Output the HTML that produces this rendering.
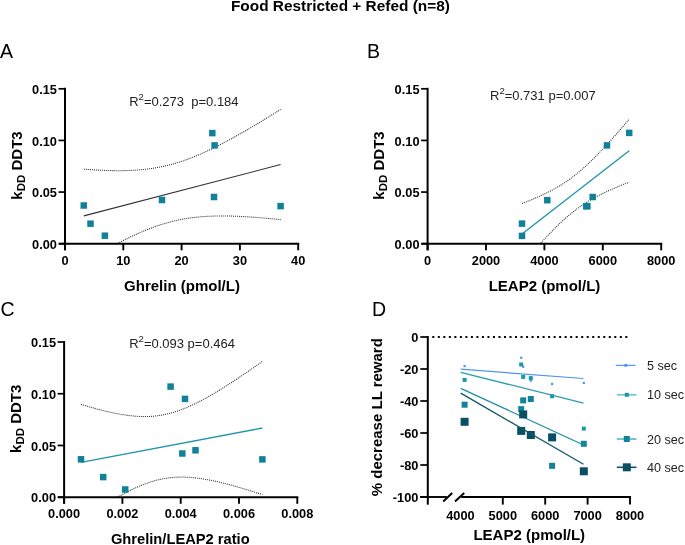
<!DOCTYPE html>
<html><head><meta charset="utf-8"><style>
html,body{margin:0;padding:0;background:#fff;overflow:hidden}
svg{display:block;font-family:"Liberation Sans", sans-serif;will-change:transform}
</style></head><body>
<svg width="685" height="545" viewBox="0 0 685 545">
<rect width="685" height="545" fill="#fff"/>
<defs>
<clipPath id="clip65243"><rect x="65" y="58.8" width="243.2" height="184.89999999999998"/></clipPath>
<clipPath id="clip427243"><rect x="427.6" y="58.8" width="243.60000000000002" height="184.89999999999998"/></clipPath>
<clipPath id="clip64497"><rect x="64.1" y="312" width="243.20000000000002" height="185.2"/></clipPath>
</defs>
<text x="340.40" y="11.00" font-size="15.4" font-weight="bold" text-anchor="middle" fill="#000" >Food Restricted + Refed (n=8)</text>
<text x="0.00" y="57.70" font-size="19.5" font-weight="normal" text-anchor="start" fill="#000" >A</text>
<text x="367.00" y="57.70" font-size="19.5" font-weight="normal" text-anchor="start" fill="#000" >B</text>
<text x="0.60" y="316.20" font-size="19.5" font-weight="normal" text-anchor="start" fill="#000" >C</text>
<text x="372.00" y="315.70" font-size="19.5" font-weight="normal" text-anchor="start" fill="#000" >D</text>
<g clip-path="url(#clip65243)">
<polyline points="83.80,169.17 85.45,169.29 87.11,169.41 88.76,169.53 90.42,169.64 92.07,169.75 93.72,169.85 95.38,169.95 97.03,170.04 98.68,170.13 100.34,170.21 101.99,170.28 103.65,170.35 105.30,170.41 106.95,170.47 108.61,170.52 110.26,170.56 111.91,170.60 113.57,170.63 115.22,170.65 116.88,170.66 118.53,170.67 120.18,170.66 121.84,170.65 123.49,170.63 125.14,170.59 126.80,170.55 128.45,170.50 130.11,170.44 131.76,170.36 133.41,170.28 135.07,170.18 136.72,170.07 138.37,169.95 140.03,169.81 141.68,169.67 143.34,169.51 144.99,169.33 146.64,169.14 148.30,168.94 149.95,168.72 151.61,168.49 153.26,168.24 154.91,167.97 156.57,167.69 158.22,167.39 159.87,167.08 161.53,166.75 163.18,166.40 164.84,166.04 166.49,165.65 168.14,165.25 169.80,164.84 171.45,164.40 173.10,163.95 174.76,163.48 176.41,163.00 178.07,162.49 179.72,161.97 181.37,161.43 183.03,160.88 184.68,160.31 186.33,159.72 187.99,159.12 189.64,158.50 191.30,157.87 192.95,157.22 194.60,156.56 196.26,155.88 197.91,155.18 199.56,154.48 201.22,153.76 202.87,153.03 204.53,152.28 206.18,151.52 207.83,150.75 209.49,149.97 211.14,149.18 212.79,148.38 214.45,147.56 216.10,146.74 217.76,145.91 219.41,145.06 221.06,144.21 222.72,143.35 224.37,142.48 226.03,141.60 227.68,140.72 229.33,139.82 230.99,138.92 232.64,138.01 234.29,137.10 235.95,136.18 237.60,135.25 239.26,134.32 240.91,133.38 242.56,132.43 244.22,131.48 245.87,130.52 247.52,129.56 249.18,128.60 250.83,127.63 252.49,126.65 254.14,125.67 255.79,124.69 257.45,123.70 259.10,122.71 260.75,121.71 262.41,120.71 264.06,119.71 265.72,118.70 267.37,117.69 269.02,116.68 270.68,115.66 272.33,114.64 273.98,113.62 275.64,112.60 277.29,111.57 278.95,110.54 280.60,109.51" fill="none" stroke="#2a2a2a" stroke-width="1.05" stroke-dasharray="1 1.04"/>
<polyline points="83.80,262.58 85.45,261.60 87.11,260.62 88.76,259.64 90.42,258.66 92.07,257.69 93.72,256.73 95.38,255.77 97.03,254.82 98.68,253.87 100.34,252.92 101.99,251.99 103.65,251.05 105.30,250.13 106.95,249.21 108.61,248.30 110.26,247.39 111.91,246.49 113.57,245.60 115.22,244.72 116.88,243.84 118.53,242.98 120.18,242.12 121.84,241.27 123.49,240.43 125.14,239.60 126.80,238.78 128.45,237.97 130.11,237.17 131.76,236.38 133.41,235.60 135.07,234.84 136.72,234.09 138.37,233.34 140.03,232.62 141.68,231.90 143.34,231.20 144.99,230.51 146.64,229.84 148.30,229.18 149.95,228.54 151.61,227.91 153.26,227.29 154.91,226.70 156.57,226.12 158.22,225.55 159.87,225.00 161.53,224.47 163.18,223.96 164.84,223.46 166.49,222.98 168.14,222.52 169.80,222.07 171.45,221.64 173.10,221.23 174.76,220.84 176.41,220.46 178.07,220.10 179.72,219.76 181.37,219.44 183.03,219.13 184.68,218.83 186.33,218.56 187.99,218.30 189.64,218.06 191.30,217.83 192.95,217.61 194.60,217.42 196.26,217.23 197.91,217.06 199.56,216.91 201.22,216.76 202.87,216.63 204.53,216.52 206.18,216.41 207.83,216.32 209.49,216.24 211.14,216.17 212.79,216.11 214.45,216.06 216.10,216.02 217.76,215.99 219.41,215.97 221.06,215.96 222.72,215.96 224.37,215.97 226.03,215.98 227.68,216.01 229.33,216.04 230.99,216.08 232.64,216.12 234.29,216.17 235.95,216.23 237.60,216.30 239.26,216.37 240.91,216.45 242.56,216.53 244.22,216.62 245.87,216.71 247.52,216.81 249.18,216.91 250.83,217.02 252.49,217.13 254.14,217.25 255.79,217.37 257.45,217.50 259.10,217.63 260.75,217.76 262.41,217.90 264.06,218.04 265.72,218.18 267.37,218.33 269.02,218.48 270.68,218.64 272.33,218.79 273.98,218.95 275.64,219.12 277.29,219.28 278.95,219.45 280.60,219.62" fill="none" stroke="#2a2a2a" stroke-width="1.05" stroke-dasharray="1 1.04"/>
<line x1="83.80" y1="215.88" x2="280.60" y2="164.56" stroke="#333" stroke-width="1.1"/>
</g>
<rect x="80.55" y="202.25" width="6.5" height="6.5" fill="#13809a"/>
<rect x="87.25" y="220.45" width="6.5" height="6.5" fill="#13809a"/>
<rect x="101.65" y="232.45" width="6.5" height="6.5" fill="#13809a"/>
<rect x="158.75" y="196.75" width="6.5" height="6.5" fill="#13809a"/>
<rect x="209.05" y="129.85" width="6.5" height="6.5" fill="#13809a"/>
<rect x="211.35" y="142.15" width="6.5" height="6.5" fill="#13809a"/>
<rect x="210.75" y="193.75" width="6.5" height="6.5" fill="#13809a"/>
<rect x="277.35" y="202.85" width="6.5" height="6.5" fill="#13809a"/>
<line x1="65.00" y1="87.80" x2="65.00" y2="250.30" stroke="#000" stroke-width="2" />
<line x1="59.00" y1="243.70" x2="299.20" y2="243.70" stroke="#000" stroke-width="1.9" />
<line x1="58.50" y1="243.70" x2="65.00" y2="243.70" stroke="#000" stroke-width="1.7" />
<text transform="translate(56.90,248.90) scale(1,1.06)" font-size="12.8" font-weight="bold" text-anchor="end" fill="#000" >0.00</text>
<line x1="58.50" y1="192.07" x2="65.00" y2="192.07" stroke="#000" stroke-width="1.7" />
<text transform="translate(56.90,197.27) scale(1,1.06)" font-size="12.8" font-weight="bold" text-anchor="end" fill="#000" >0.05</text>
<line x1="58.50" y1="140.43" x2="65.00" y2="140.43" stroke="#000" stroke-width="1.7" />
<text transform="translate(56.90,145.63) scale(1,1.06)" font-size="12.8" font-weight="bold" text-anchor="end" fill="#000" >0.10</text>
<line x1="58.50" y1="88.80" x2="65.00" y2="88.80" stroke="#000" stroke-width="1.7" />
<text transform="translate(56.90,94.00) scale(1,1.06)" font-size="12.8" font-weight="bold" text-anchor="end" fill="#000" >0.15</text>
<line x1="65.00" y1="243.70" x2="65.00" y2="250.30" stroke="#000" stroke-width="1.9" />
<text transform="translate(65.00,264.90) scale(1,1.06)" font-size="12.8" font-weight="bold" text-anchor="middle" fill="#000" >0</text>
<line x1="123.30" y1="243.70" x2="123.30" y2="250.30" stroke="#000" stroke-width="1.9" />
<text transform="translate(123.30,264.90) scale(1,1.06)" font-size="12.8" font-weight="bold" text-anchor="middle" fill="#000" >10</text>
<line x1="181.60" y1="243.70" x2="181.60" y2="250.30" stroke="#000" stroke-width="1.9" />
<text transform="translate(181.60,264.90) scale(1,1.06)" font-size="12.8" font-weight="bold" text-anchor="middle" fill="#000" >20</text>
<line x1="239.90" y1="243.70" x2="239.90" y2="250.30" stroke="#000" stroke-width="1.9" />
<text transform="translate(239.90,264.90) scale(1,1.06)" font-size="12.8" font-weight="bold" text-anchor="middle" fill="#000" >30</text>
<line x1="298.20" y1="243.70" x2="298.20" y2="250.30" stroke="#000" stroke-width="1.9" />
<text transform="translate(298.20,264.90) scale(1,1.06)" font-size="12.8" font-weight="bold" text-anchor="middle" fill="#000" >40</text>
<text transform="translate(21.90,165.50) rotate(-90)" font-size="15" font-weight="bold" text-anchor="middle">k<tspan font-size="11.5" dy="3">DD</tspan><tspan dy="-3"> DDT3</tspan></text>
<text x="182.00" y="290.50" font-size="15" font-weight="bold" text-anchor="middle" fill="#000" >Ghrelin (pmol/L)</text>
<text x="129.2" y="105.9" xml:space="preserve" font-size="13" fill="#222">R<tspan font-size="9.5" dy="-5.5">2</tspan><tspan dy="5.5">=0.273  p=0.184</tspan></text>
<g clip-path="url(#clip427243)">
<polyline points="522.00,203.56 522.90,203.21 523.80,202.85 524.70,202.50 525.60,202.14 526.50,201.78 527.41,201.42 528.31,201.05 529.21,200.69 530.11,200.32 531.01,199.94 531.91,199.57 532.81,199.19 533.71,198.81 534.61,198.42 535.51,198.04 536.41,197.64 537.31,197.25 538.22,196.85 539.12,196.45 540.02,196.04 540.92,195.63 541.82,195.22 542.72,194.80 543.62,194.37 544.52,193.94 545.42,193.51 546.32,193.07 547.22,192.63 548.12,192.18 549.03,191.72 549.93,191.26 550.83,190.79 551.73,190.32 552.63,189.84 553.53,189.35 554.43,188.86 555.33,188.36 556.23,187.85 557.13,187.33 558.03,186.81 558.93,186.28 559.84,185.74 560.74,185.19 561.64,184.63 562.54,184.07 563.44,183.49 564.34,182.91 565.24,182.31 566.14,181.71 567.04,181.10 567.94,180.47 568.84,179.84 569.74,179.20 570.65,178.55 571.55,177.88 572.45,177.21 573.35,176.52 574.25,175.83 575.15,175.12 576.05,174.41 576.95,173.68 577.85,172.95 578.75,172.20 579.65,171.44 580.55,170.68 581.46,169.90 582.36,169.11 583.26,168.32 584.16,167.51 585.06,166.70 585.96,165.87 586.86,165.04 587.76,164.20 588.66,163.35 589.56,162.49 590.46,161.62 591.36,160.74 592.27,159.86 593.17,158.97 594.07,158.07 594.97,157.16 595.87,156.25 596.77,155.33 597.67,154.41 598.57,153.47 599.47,152.54 600.37,151.59 601.27,150.64 602.17,149.69 603.08,148.73 603.98,147.76 604.88,146.79 605.78,145.82 606.68,144.84 607.58,143.85 608.48,142.86 609.38,141.87 610.28,140.87 611.18,139.87 612.08,138.87 612.98,137.86 613.89,136.85 614.79,135.84 615.69,134.82 616.59,133.80 617.49,132.78 618.39,131.75 619.29,130.72 620.19,129.69 621.09,128.65 621.99,127.62 622.89,126.58 623.79,125.53 624.70,124.49 625.60,123.45 626.50,122.40 627.40,121.35 628.30,120.29 629.20,119.24" fill="none" stroke="#2a2a2a" stroke-width="1.05" stroke-dasharray="1 1.04"/>
<polyline points="522.00,264.40 522.90,263.35 523.80,262.30 524.70,261.26 525.60,260.22 526.50,259.18 527.41,258.14 528.31,257.11 529.21,256.08 530.11,255.05 531.01,254.02 531.91,253.00 532.81,251.98 533.71,250.96 534.61,249.95 535.51,248.93 536.41,247.93 537.31,246.92 538.22,245.92 539.12,244.93 540.02,243.93 540.92,242.95 541.82,241.96 542.72,240.98 543.62,240.01 544.52,239.04 545.42,238.07 546.32,237.11 547.22,236.16 548.12,235.21 549.03,234.26 549.93,233.33 550.83,232.39 551.73,231.47 552.63,230.55 553.53,229.64 554.43,228.73 555.33,227.83 556.23,226.94 557.13,226.06 558.03,225.19 558.93,224.32 559.84,223.46 560.74,222.61 561.64,221.77 562.54,220.93 563.44,220.11 564.34,219.30 565.24,218.49 566.14,217.69 567.04,216.91 567.94,216.13 568.84,215.37 569.74,214.61 570.65,213.86 571.55,213.13 572.45,212.40 573.35,211.69 574.25,210.98 575.15,210.29 576.05,209.61 576.95,208.93 577.85,208.27 578.75,207.62 579.65,206.97 580.55,206.34 581.46,205.72 582.36,205.11 583.26,204.51 584.16,203.91 585.06,203.33 585.96,202.75 586.86,202.19 587.76,201.63 588.66,201.08 589.56,200.54 590.46,200.01 591.36,199.49 592.27,198.97 593.17,198.47 594.07,197.97 594.97,197.47 595.87,196.99 596.77,196.51 597.67,196.03 598.57,195.57 599.47,195.10 600.37,194.65 601.27,194.20 602.17,193.76 603.08,193.32 603.98,192.88 604.88,192.46 605.78,192.03 606.68,191.61 607.58,191.20 608.48,190.79 609.38,190.38 610.28,189.98 611.18,189.58 612.08,189.19 612.98,188.79 613.89,188.41 614.79,188.02 615.69,187.64 616.59,187.26 617.49,186.89 618.39,186.51 619.29,186.14 620.19,185.78 621.09,185.41 621.99,185.05 622.89,184.69 623.79,184.33 624.70,183.98 625.60,183.63 626.50,183.28 627.40,182.93 628.30,182.58 629.20,182.23" fill="none" stroke="#2a2a2a" stroke-width="1.05" stroke-dasharray="1 1.04"/>
<line x1="522.00" y1="233.98" x2="629.20" y2="150.74" stroke="#2196ab" stroke-width="1.4"/>
</g>
<rect x="518.75" y="220.35" width="6.5" height="6.5" fill="#13809a"/>
<rect x="518.75" y="232.65" width="6.5" height="6.5" fill="#13809a"/>
<rect x="544.05" y="196.95" width="6.5" height="6.5" fill="#13809a"/>
<rect x="582.95" y="202.95" width="6.5" height="6.5" fill="#13809a"/>
<rect x="584.15" y="202.95" width="6.5" height="6.5" fill="#13809a"/>
<rect x="589.45" y="193.75" width="6.5" height="6.5" fill="#13809a"/>
<rect x="603.75" y="142.15" width="6.5" height="6.5" fill="#13809a"/>
<rect x="625.95" y="129.65" width="6.5" height="6.5" fill="#13809a"/>
<line x1="427.60" y1="87.80" x2="427.60" y2="250.30" stroke="#000" stroke-width="2" />
<line x1="421.60" y1="243.70" x2="662.20" y2="243.70" stroke="#000" stroke-width="1.9" />
<line x1="421.10" y1="243.70" x2="427.60" y2="243.70" stroke="#000" stroke-width="1.7" />
<text transform="translate(419.50,248.90) scale(1,1.06)" font-size="12.8" font-weight="bold" text-anchor="end" fill="#000" >0.00</text>
<line x1="421.10" y1="192.07" x2="427.60" y2="192.07" stroke="#000" stroke-width="1.7" />
<text transform="translate(419.50,197.27) scale(1,1.06)" font-size="12.8" font-weight="bold" text-anchor="end" fill="#000" >0.05</text>
<line x1="421.10" y1="140.43" x2="427.60" y2="140.43" stroke="#000" stroke-width="1.7" />
<text transform="translate(419.50,145.63) scale(1,1.06)" font-size="12.8" font-weight="bold" text-anchor="end" fill="#000" >0.10</text>
<line x1="421.10" y1="88.80" x2="427.60" y2="88.80" stroke="#000" stroke-width="1.7" />
<text transform="translate(419.50,94.00) scale(1,1.06)" font-size="12.8" font-weight="bold" text-anchor="end" fill="#000" >0.15</text>
<line x1="427.60" y1="243.70" x2="427.60" y2="250.30" stroke="#000" stroke-width="1.9" />
<text transform="translate(427.60,264.90) scale(1,1.06)" font-size="12.8" font-weight="bold" text-anchor="middle" fill="#000" >0</text>
<line x1="486.00" y1="243.70" x2="486.00" y2="250.30" stroke="#000" stroke-width="1.9" />
<text transform="translate(486.00,264.90) scale(1,1.06)" font-size="12.8" font-weight="bold" text-anchor="middle" fill="#000" >2000</text>
<line x1="544.40" y1="243.70" x2="544.40" y2="250.30" stroke="#000" stroke-width="1.9" />
<text transform="translate(544.40,264.90) scale(1,1.06)" font-size="12.8" font-weight="bold" text-anchor="middle" fill="#000" >4000</text>
<line x1="602.80" y1="243.70" x2="602.80" y2="250.30" stroke="#000" stroke-width="1.9" />
<text transform="translate(602.80,264.90) scale(1,1.06)" font-size="12.8" font-weight="bold" text-anchor="middle" fill="#000" >6000</text>
<line x1="661.20" y1="243.70" x2="661.20" y2="250.30" stroke="#000" stroke-width="1.9" />
<text transform="translate(661.20,264.90) scale(1,1.06)" font-size="12.8" font-weight="bold" text-anchor="middle" fill="#000" >8000</text>
<text transform="translate(384.00,165.50) rotate(-90)" font-size="15" font-weight="bold" text-anchor="middle">k<tspan font-size="11.5" dy="3">DD</tspan><tspan dy="-3"> DDT3</tspan></text>
<text x="544.50" y="290.50" font-size="15" font-weight="bold" text-anchor="middle" fill="#000" >LEAP2 (pmol/L)</text>
<text x="490.0" y="99.6" font-size="13" fill="#222">R<tspan font-size="9.5" dy="-5.5">2</tspan><tspan dy="5.5">=0.731 p=0.007</tspan></text>
<g clip-path="url(#clip64497)">
<polyline points="81.00,404.43 82.52,404.89 84.05,405.34 85.57,405.79 87.10,406.23 88.62,406.67 90.15,407.10 91.67,407.53 93.19,407.96 94.72,408.37 96.24,408.78 97.77,409.19 99.29,409.59 100.82,409.98 102.34,410.36 103.87,410.74 105.39,411.11 106.91,411.47 108.44,411.82 109.96,412.17 111.49,412.50 113.01,412.83 114.54,413.14 116.06,413.44 117.58,413.74 119.11,414.02 120.63,414.29 122.16,414.55 123.68,414.79 125.21,415.03 126.73,415.24 128.26,415.45 129.78,415.64 131.30,415.81 132.83,415.97 134.35,416.11 135.88,416.23 137.40,416.34 138.93,416.42 140.45,416.49 141.97,416.54 143.50,416.56 145.02,416.57 146.55,416.55 148.07,416.52 149.60,416.46 151.12,416.37 152.65,416.27 154.17,416.14 155.69,415.98 157.22,415.80 158.74,415.60 160.27,415.37 161.79,415.12 163.32,414.84 164.84,414.53 166.36,414.20 167.89,413.85 169.41,413.47 170.94,413.07 172.46,412.64 173.99,412.19 175.51,411.71 177.04,411.21 178.56,410.69 180.08,410.14 181.61,409.58 183.13,408.99 184.66,408.38 186.18,407.75 187.71,407.10 189.23,406.43 190.75,405.75 192.28,405.04 193.80,404.32 195.33,403.58 196.85,402.83 198.38,402.06 199.90,401.27 201.43,400.48 202.95,399.66 204.47,398.84 206.00,398.00 207.52,397.15 209.05,396.29 210.57,395.41 212.10,394.53 213.62,393.63 215.14,392.73 216.67,391.81 218.19,390.89 219.72,389.96 221.24,389.02 222.77,388.07 224.29,387.12 225.82,386.15 227.34,385.18 228.86,384.20 230.39,383.22 231.91,382.23 233.44,381.23 234.96,380.23 236.49,379.23 238.01,378.21 239.53,377.20 241.06,376.17 242.58,375.15 244.11,374.11 245.63,373.08 247.16,372.04 248.68,370.99 250.21,369.95 251.73,368.89 253.25,367.84 254.78,366.78 256.30,365.72 257.83,364.65 259.35,363.58 260.88,362.51 262.40,361.44" fill="none" stroke="#2a2a2a" stroke-width="1.05" stroke-dasharray="1 1.04"/>
<polyline points="81.00,520.35 82.52,519.31 84.05,518.28 85.57,517.25 87.10,516.23 88.62,515.22 90.15,514.20 91.67,513.20 93.19,512.20 94.72,511.20 96.24,510.21 97.77,509.23 99.29,508.26 100.82,507.29 102.34,506.33 103.87,505.37 105.39,504.43 106.91,503.49 108.44,502.56 109.96,501.64 111.49,500.72 113.01,499.82 114.54,498.93 116.06,498.05 117.58,497.18 119.11,496.32 120.63,495.47 122.16,494.63 123.68,493.81 125.21,493.00 126.73,492.20 128.26,491.42 129.78,490.66 131.30,489.91 132.83,489.17 134.35,488.45 135.88,487.75 137.40,487.07 138.93,486.41 140.45,485.76 141.97,485.14 143.50,484.53 145.02,483.95 146.55,483.39 148.07,482.85 149.60,482.33 151.12,481.83 152.65,481.36 154.17,480.92 155.69,480.49 157.22,480.09 158.74,479.72 160.27,479.37 161.79,479.05 163.32,478.75 164.84,478.48 166.36,478.23 167.89,478.00 169.41,477.81 170.94,477.63 172.46,477.48 173.99,477.36 175.51,477.26 177.04,477.18 178.56,477.12 180.08,477.09 181.61,477.08 183.13,477.09 184.66,477.12 186.18,477.17 187.71,477.25 189.23,477.34 190.75,477.44 192.28,477.57 193.80,477.72 195.33,477.88 196.85,478.05 198.38,478.24 199.90,478.45 201.43,478.67 202.95,478.91 204.47,479.16 206.00,479.42 207.52,479.69 209.05,479.97 210.57,480.27 212.10,480.58 213.62,480.89 215.14,481.22 216.67,481.56 218.19,481.90 219.72,482.26 221.24,482.62 222.77,482.99 224.29,483.37 225.82,483.76 227.34,484.15 228.86,484.55 230.39,484.95 231.91,485.37 233.44,485.79 234.96,486.21 236.49,486.64 238.01,487.07 239.53,487.51 241.06,487.96 242.58,488.41 244.11,488.86 245.63,489.32 247.16,489.78 248.68,490.25 250.21,490.72 251.73,491.20 253.25,491.67 254.78,492.16 256.30,492.64 257.83,493.13 259.35,493.62 260.88,494.11 262.40,494.61" fill="none" stroke="#2a2a2a" stroke-width="1.05" stroke-dasharray="1 1.04"/>
<line x1="81.00" y1="462.39" x2="262.40" y2="428.02" stroke="#2196ab" stroke-width="1.4"/>
</g>
<rect x="77.75" y="456.05" width="6.5" height="6.5" fill="#13809a"/>
<rect x="99.95" y="473.85" width="6.5" height="6.5" fill="#13809a"/>
<rect x="121.95" y="486.25" width="6.5" height="6.5" fill="#13809a"/>
<rect x="167.35" y="383.35" width="6.5" height="6.5" fill="#13809a"/>
<rect x="181.75" y="395.65" width="6.5" height="6.5" fill="#13809a"/>
<rect x="179.05" y="450.25" width="6.5" height="6.5" fill="#13809a"/>
<rect x="192.25" y="447.05" width="6.5" height="6.5" fill="#13809a"/>
<rect x="259.15" y="456.15" width="6.5" height="6.5" fill="#13809a"/>
<line x1="64.10" y1="341.00" x2="64.10" y2="503.80" stroke="#000" stroke-width="2" />
<line x1="58.10" y1="497.20" x2="298.30" y2="497.20" stroke="#000" stroke-width="1.9" />
<line x1="57.60" y1="497.20" x2="64.10" y2="497.20" stroke="#000" stroke-width="1.7" />
<text transform="translate(56.00,502.40) scale(1,1.06)" font-size="12.8" font-weight="bold" text-anchor="end" fill="#000" >0.00</text>
<line x1="57.60" y1="445.47" x2="64.10" y2="445.47" stroke="#000" stroke-width="1.7" />
<text transform="translate(56.00,450.67) scale(1,1.06)" font-size="12.8" font-weight="bold" text-anchor="end" fill="#000" >0.05</text>
<line x1="57.60" y1="393.73" x2="64.10" y2="393.73" stroke="#000" stroke-width="1.7" />
<text transform="translate(56.00,398.93) scale(1,1.06)" font-size="12.8" font-weight="bold" text-anchor="end" fill="#000" >0.10</text>
<line x1="57.60" y1="342.00" x2="64.10" y2="342.00" stroke="#000" stroke-width="1.7" />
<text transform="translate(56.00,347.20) scale(1,1.06)" font-size="12.8" font-weight="bold" text-anchor="end" fill="#000" >0.15</text>
<line x1="64.10" y1="497.20" x2="64.10" y2="503.80" stroke="#000" stroke-width="1.9" />
<text transform="translate(64.10,518.40) scale(1,1.06)" font-size="12.8" font-weight="bold" text-anchor="middle" fill="#000" >0.000</text>
<line x1="122.40" y1="497.20" x2="122.40" y2="503.80" stroke="#000" stroke-width="1.9" />
<text transform="translate(122.40,518.40) scale(1,1.06)" font-size="12.8" font-weight="bold" text-anchor="middle" fill="#000" >0.002</text>
<line x1="180.70" y1="497.20" x2="180.70" y2="503.80" stroke="#000" stroke-width="1.9" />
<text transform="translate(180.70,518.40) scale(1,1.06)" font-size="12.8" font-weight="bold" text-anchor="middle" fill="#000" >0.004</text>
<line x1="239.00" y1="497.20" x2="239.00" y2="503.80" stroke="#000" stroke-width="1.9" />
<text transform="translate(239.00,518.40) scale(1,1.06)" font-size="12.8" font-weight="bold" text-anchor="middle" fill="#000" >0.006</text>
<line x1="297.30" y1="497.20" x2="297.30" y2="503.80" stroke="#000" stroke-width="1.9" />
<text transform="translate(297.30,518.40) scale(1,1.06)" font-size="12.8" font-weight="bold" text-anchor="middle" fill="#000" >0.008</text>
<text transform="translate(21.20,418.80) rotate(-90)" font-size="15" font-weight="bold" text-anchor="middle">k<tspan font-size="11.5" dy="3">DD</tspan><tspan dy="-3"> DDT3</tspan></text>
<text x="180.30" y="544.00" font-size="14.7" font-weight="bold" text-anchor="middle" fill="#000" >Ghrelin/LEAP2 ratio</text>
<text x="129.2" y="347.9" font-size="13" fill="#222">R<tspan font-size="9.5" dy="-5.5">2</tspan><tspan dy="5.5">=0.093 p=0.464</tspan></text>
<line x1="432.3" y1="337" x2="627.6" y2="337" stroke="#000" stroke-width="2" stroke-dasharray="2 3.515"/>
<line x1="427.80" y1="336.00" x2="427.80" y2="504.70" stroke="#000" stroke-width="2" />
<line x1="420.30" y1="337.00" x2="427.80" y2="337.00" stroke="#000" stroke-width="1.7" />
<text transform="translate(418.40,342.20) scale(1,1.06)" font-size="12.8" font-weight="bold" text-anchor="end" fill="#000" >0</text>
<line x1="420.30" y1="369.00" x2="427.80" y2="369.00" stroke="#000" stroke-width="1.7" />
<text transform="translate(418.40,374.20) scale(1,1.06)" font-size="12.8" font-weight="bold" text-anchor="end" fill="#000" >-20</text>
<line x1="420.30" y1="401.00" x2="427.80" y2="401.00" stroke="#000" stroke-width="1.7" />
<text transform="translate(418.40,406.20) scale(1,1.06)" font-size="12.8" font-weight="bold" text-anchor="end" fill="#000" >-40</text>
<line x1="420.30" y1="433.00" x2="427.80" y2="433.00" stroke="#000" stroke-width="1.7" />
<text transform="translate(418.40,438.20) scale(1,1.06)" font-size="12.8" font-weight="bold" text-anchor="end" fill="#000" >-60</text>
<line x1="420.30" y1="465.00" x2="427.80" y2="465.00" stroke="#000" stroke-width="1.7" />
<text transform="translate(418.40,470.20) scale(1,1.06)" font-size="12.8" font-weight="bold" text-anchor="end" fill="#000" >-80</text>
<line x1="420.30" y1="497.00" x2="427.80" y2="497.00" stroke="#000" stroke-width="1.7" />
<text transform="translate(418.40,502.20) scale(1,1.06)" font-size="12.8" font-weight="bold" text-anchor="end" fill="#000" >-100</text>
<line x1="420.10" y1="497.00" x2="446.80" y2="497.00" stroke="#000" stroke-width="1.9" />
<line x1="461.20" y1="497.00" x2="631.00" y2="497.00" stroke="#000" stroke-width="1.9" />
<line x1="443.20" y1="501.60" x2="452.20" y2="493.10" stroke="#000" stroke-width="2" />
<line x1="455.00" y1="501.60" x2="464.20" y2="493.10" stroke="#000" stroke-width="2" />
<line x1="502.80" y1="497.00" x2="502.80" y2="504.60" stroke="#000" stroke-width="1.9" />
<text transform="translate(502.80,520.00) scale(1,1.06)" font-size="12.8" font-weight="bold" text-anchor="middle" fill="#000" >5000</text>
<line x1="545.20" y1="497.00" x2="545.20" y2="504.60" stroke="#000" stroke-width="1.9" />
<text transform="translate(545.20,520.00) scale(1,1.06)" font-size="12.8" font-weight="bold" text-anchor="middle" fill="#000" >6000</text>
<line x1="587.60" y1="497.00" x2="587.60" y2="504.60" stroke="#000" stroke-width="1.9" />
<text transform="translate(587.60,520.00) scale(1,1.06)" font-size="12.8" font-weight="bold" text-anchor="middle" fill="#000" >7000</text>
<line x1="630.00" y1="497.00" x2="630.00" y2="504.60" stroke="#000" stroke-width="1.9" />
<text transform="translate(630.00,520.00) scale(1,1.06)" font-size="12.8" font-weight="bold" text-anchor="middle" fill="#000" >8000</text>
<text transform="translate(460.40,520.00) scale(1,1.06)" font-size="12.8" font-weight="bold" text-anchor="middle" fill="#000" >4000</text>
<text transform="translate(381.8,417.2) rotate(-90)" font-size="15" font-weight="bold" text-anchor="middle">% decrease LL reward</text>
<text x="529.30" y="540.20" font-size="15" font-weight="bold" text-anchor="middle" fill="#000" >LEAP2 (pmol/L)</text>
<rect x="463.50" y="365.00" width="2.2" height="2.2" fill="#4f94f4"/>
<rect x="520.10" y="356.70" width="2.2" height="2.2" fill="#4f94f4"/>
<rect x="522.10" y="365.70" width="2.2" height="2.2" fill="#4f94f4"/>
<rect x="529.70" y="379.60" width="2.2" height="2.2" fill="#4f94f4"/>
<rect x="551.00" y="382.90" width="2.2" height="2.2" fill="#4f94f4"/>
<rect x="582.70" y="381.80" width="2.2" height="2.2" fill="#4f94f4"/>
<line x1="460.70" y1="369.20" x2="583.50" y2="378.50" stroke="#4f94f4" stroke-width="1.2" />
<rect x="462.60" y="377.90" width="4" height="4" fill="#1a96aa"/>
<rect x="519.20" y="362.50" width="4" height="4" fill="#1a96aa"/>
<rect x="521.20" y="374.90" width="4" height="4" fill="#1a96aa"/>
<rect x="528.80" y="376.10" width="4" height="4" fill="#1a96aa"/>
<rect x="550.10" y="394.20" width="4" height="4" fill="#1a96aa"/>
<rect x="581.80" y="426.60" width="4" height="4" fill="#1a96aa"/>
<line x1="460.70" y1="372.30" x2="583.50" y2="403.20" stroke="#2a9db0" stroke-width="1.3" />
<rect x="461.60" y="401.70" width="6" height="6" fill="#13839a"/>
<rect x="520.20" y="397.40" width="6" height="6" fill="#13839a"/>
<rect x="527.80" y="396.00" width="6" height="6" fill="#13839a"/>
<rect x="518.20" y="406.10" width="6" height="6" fill="#13839a"/>
<rect x="549.10" y="462.80" width="6" height="6" fill="#13839a"/>
<rect x="580.80" y="440.80" width="6" height="6" fill="#13839a"/>
<line x1="460.70" y1="388.30" x2="583.50" y2="445.00" stroke="#1e8fa6" stroke-width="1.3" />
<rect x="460.60" y="417.80" width="8" height="8" fill="#0b4f62"/>
<rect x="519.20" y="410.40" width="8" height="8" fill="#0b4f62"/>
<rect x="517.20" y="426.90" width="8" height="8" fill="#0b4f62"/>
<rect x="526.80" y="431.00" width="8" height="8" fill="#0b4f62"/>
<rect x="548.10" y="433.40" width="8" height="8" fill="#0b4f62"/>
<rect x="579.80" y="467.30" width="8" height="8" fill="#0b4f62"/>
<line x1="460.70" y1="393.10" x2="583.50" y2="464.30" stroke="#10566a" stroke-width="1.3" />
<line x1="615.80" y1="365.40" x2="635.50" y2="365.40" stroke="#5a9cf6" stroke-width="1.3" />
<rect x="624.40" y="364.00" width="2.8" height="2.8" fill="#4f94f4"/>
<text x="646.90" y="369.90" font-size="12.6" font-weight="normal" text-anchor="start" fill="#222" >5 sec</text>
<line x1="616.80" y1="394.80" x2="636.50" y2="394.80" stroke="#6cc3d0" stroke-width="1.6" />
<rect x="624.80" y="392.80" width="4" height="4" fill="#1a96aa"/>
<text x="646.90" y="399.30" font-size="12.6" font-weight="normal" text-anchor="start" fill="#222" >10 sec</text>
<line x1="616.80" y1="439.00" x2="636.50" y2="439.00" stroke="#58b3c2" stroke-width="1.6" />
<rect x="623.80" y="436.00" width="6" height="6" fill="#13839a"/>
<text x="646.90" y="443.50" font-size="12.6" font-weight="normal" text-anchor="start" fill="#222" >20 sec</text>
<line x1="616.80" y1="467.30" x2="636.50" y2="467.30" stroke="#10566a" stroke-width="1.6" />
<rect x="622.80" y="463.30" width="8" height="8" fill="#0b4f62"/>
<text x="646.90" y="471.80" font-size="12.6" font-weight="normal" text-anchor="start" fill="#222" >40 sec</text>
</svg></body></html>
